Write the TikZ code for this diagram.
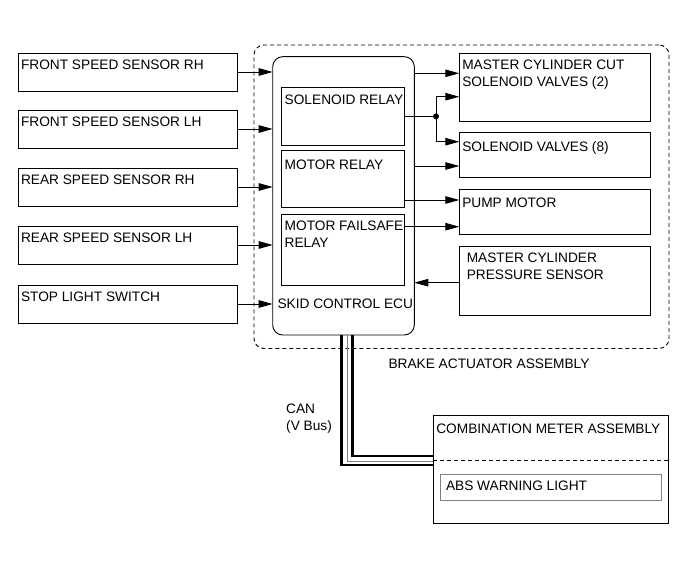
\documentclass[tikz,border=0pt]{standalone}
\usepackage{fontspec}
\setmainfont{Liberation Sans}
\usetikzlibrary{arrows.meta,positioning}
\newcommand{\lblfont}{\fontsize{13.7}{17}\selectfont}

\begin{document}
\begin{tikzpicture}[
  x=1pt, y=-1pt,
  node distance=20pt,
  box/.style={
    draw,
    line width=0.9pt,
    inner sep=0pt,
    outer sep=0pt
  },
  senbox/.style={box, minimum width=219pt, minimum height=38pt},
  relbox/.style={box, minimum width=122.3pt},
  outbox/.style={box, minimum width=191.4pt},
  tag/.style={
    anchor=north west,
    inner xsep=3pt,
    inner ysep=7pt,
    outer sep=0pt,
    align=left,
    font=\lblfont
  },
  note/.style={anchor=north west, inner sep=0pt, align=left, font=\lblfont},
  arr/.style={-{Triangle[length=14pt,width=7.5pt]}, line width=0.9pt},
  bus/.style={line width=2.8pt},
  dashline/.style={line width=0.9pt, dash pattern=on 4pt off 3pt}
]
  \useasboundingbox (0,0) rectangle (691,564);

  \node[senbox, anchor=north west,
    label={[tag]north west:FRONT SPEED SENSOR RH}] (frs) at (18,53) {};
  \node[senbox, below=19pt of frs,
    label={[tag]north west:FRONT SPEED SENSOR LH}] (fls) {};
  \node[senbox, below=of fls,
    label={[tag]north west:REAR SPEED SENSOR RH}] (rrs) {};
  \node[senbox, below=of rrs,
    label={[tag]north west:REAR SPEED SENSOR LH}] (rls) {};
  \node[senbox, below=21pt of rls,
    label={[tag]north west:STOP LIGHT SWITCH}] (sls) {};

  \node[box, dashline, rounded corners=10pt, anchor=north west,
    minimum width=415pt, minimum height=303.5pt] (assy) at (254,45) {};
  \node[note] (assylbl) at (388.3,359) {BRAKE ACTUATOR ASSEMBLY};

  \node[box, rounded corners=10pt, anchor=north west,
    minimum width=141.6pt, minimum height=278.3pt] (ecu) at (272.7,56.7) {};
  \node[relbox, anchor=north west, minimum height=57.3pt,
    label={[tag]north west:SOLENOID RELAY}] (srly) at (281.7,87.7) {};
  \node[relbox, below=5pt of srly, minimum height=57.3pt,
    label={[tag,yshift=-3pt]north west:MOTOR RELAY}] (mrly) {};
  \node[relbox, below=6.7pt of mrly, minimum height=71pt,
    label={[tag]north west:MOTOR FAILSAFE\\RELAY}] (frly) {};
  \node[note] (ecutxt) at (277.3,298.3) {SKID CONTROL ECU};

  \node[outbox, anchor=north west, minimum height=67.7pt,
    label={[tag]north west:MASTER CYLINDER CUT\\SOLENOID VALVES (2)}] (mcut) at (459.3,53.3) {};
  \node[outbox, below=11.3pt of mcut, minimum height=45.4pt,
    label={[tag,yshift=-2pt]north west:SOLENOID VALVES (8)}] (sv) {};
  \node[outbox, below=11.6pt of sv, minimum height=45pt,
    label={[tag,yshift=-1.5pt]north west:PUMP MOTOR}] (pump) {};
  \node[outbox, below=11.7pt of pump, minimum height=69pt,
    label={[tag,xshift=4.5pt]north west:MASTER CYLINDER\\PRESSURE SENSOR}] (mcps) {};

  \node[box, anchor=north west, minimum width=235pt, minimum height=107.6pt,
    label={[tag,yshift=-1pt]north west:COMBINATION METER ASSEMBLY}] (meter) at (433.3,415.7) {};
  \node[box, draw=gray, anchor=north west, minimum width=221.7pt, minimum height=26.7pt,
    label={[tag,xshift=3pt]north west:ABS WARNING LIGHT}] (abs) at (440,474) {};

  \node[note] (can) at (286,404) {CAN\\(V Bus)};

  \coordinate (mcutA) at ([yshift=-20pt]mcut.north west);
  \coordinate (mcutB) at ([yshift=-43.4pt]mcut.north west);
  \coordinate (svA) at ([yshift=-9.4pt]sv.north west);
  \coordinate (svB) at ([yshift=-33.7pt]sv.north west);
  \coordinate (pumpA) at ([yshift=-10.7pt]pump.north west);
  \coordinate (pumpB) at ([yshift=-37.4pt]pump.north west);
  \coordinate (mcpsA) at ([yshift=-36.7pt]mcps.north west);
  \coordinate (jct) at ([xshift=32pt]srly.east);

  \foreach \s in {frs,fls,rrs,rls,sls}
    \draw[arr] (\s.east) -- (\s.east -| ecu.west);

  \draw[arr] (ecu.east |- mcutA) -- (mcutA);
  \draw[line width=0.9pt] (srly.east) -- (jct);
  \draw[arr] (jct) |- (mcutB);
  \draw[arr] (jct) |- (svA);
  \fill (jct) circle (3pt);
  \draw[arr] (ecu.east |- svB) -- (svB);
  \draw[arr] (mrly.east |- pumpA) -- (pumpA);
  \draw[arr] (frly.east |- pumpB) -- (pumpB);
  \draw[arr] (mcpsA) -- (ecu.east |- mcpsA);

  \draw[bus] ([xshift=-1.8pt]ecu.south) |- ([yshift=4.5pt]meter.west);
  \draw[line width=0.8pt, gray] ([xshift=3.5pt]ecu.south) |- ([yshift=8.5pt]meter.west);
  \draw[bus] ([xshift=9pt]ecu.south) |- ([yshift=13.5pt]meter.west);
  \draw[dashline] ([yshift=9.5pt]meter.west) -- ([yshift=9.5pt]meter.east);

\end{tikzpicture}
\end{document}
